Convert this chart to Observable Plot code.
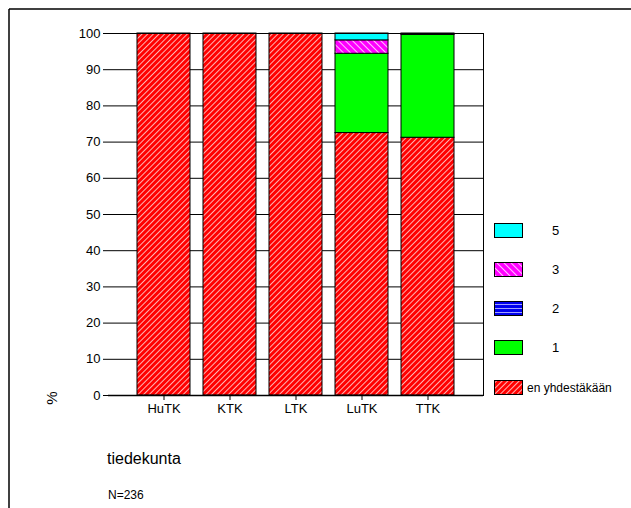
<!DOCTYPE html>
<html>
<head>
<meta charset="utf-8">
<script src="https://cdn.jsdelivr.net/npm/d3@7"></script>
<script src="https://cdn.jsdelivr.net/npm/@observablehq/plot@0.6"></script>
<style>
  html, body { margin: 0; padding: 0; background: #fff; }
  #chart { width: 631px; height: 508px; position: relative; }
  svg { font-family: "Liberation Sans", Arial, sans-serif; }
</style>
</head>
<body>
<div id="chart"></div>
<script>
// ---- data ----
const categories = ["HuTK", "KTK", "LTK", "LuTK", "TTK"];
const series = ["en yhdestäkään", "1", "2", "3", "5"];
const valuesEn = [100, 100, 100, 72.5, 71.2];
const values1  = [0, 0, 0, 21.9, 28.4];
const values2  = [0, 0, 0, 0, 0.4];
const values3  = [0, 0, 0, 3.7, 0];
const values5  = [0, 0, 0, 1.9, 0];
const yTicks = [0, 10, 20, 30, 40, 50, 60, 70, 80, 90, 100];
const xTitle = "tiedekunta";
const yTitle = "%";
const note = "N=236";
const legendOrder = ["5", "3", "2", "1", "en yhdestäkään"];

const seriesValues = [valuesEn, values1, values2, values3, values5];
const patternIds = ["pRed", "pGreen", "pBlue", "pMagenta", "pCyan"];

const rows = [];
series.forEach((s, si) => {
  categories.forEach((c, ci) => {
    rows.push({ cat: c, series: s, value: seriesValues[si][ci] });
  });
});

const W = 631, H = 508;
const mL = 108, mR = 148, mT = 33, mB = 113;

const chart = Plot.plot({
  width: W,
  height: H,
  marginLeft: mL,
  marginRight: mR,
  marginTop: mT,
  marginBottom: mB,
  style: { fontFamily: "'Liberation Sans', Arial, sans-serif", fontSize: "13px", background: "white", overflow: "visible" },
  x: { domain: categories, paddingInner: 0.19, paddingOuter: 0.42, label: null },
  y: { domain: [0, 100], label: null },
  color: { domain: series, range: patternIds.map(id => `url(#${id})`) },
  marks: [
    Plot.gridY(yTicks, { stroke: "#000", strokeOpacity: 1, strokeWidth: 1 }),
    Plot.barY(rows, Plot.stackY({ order: series }, {
      x: "cat", y: "value", fill: "series", z: "series",
      stroke: "#000", strokeWidth: 1
    })),
    Plot.axisY({ ticks: yTicks, tickSize: 5, tickPadding: 3, fontSize: 13, label: null }),
    Plot.axisX({ tickSize: 5, tickPadding: 3, fontSize: 13, label: null }),
    Plot.ruleX([0], { frameAnchor: "left", y1: 0, y2: 100, stroke: "#000", strokeWidth: 1.5 }),
    Plot.ruleY([0], { stroke: "#000", strokeWidth: 1.5 }),
    Plot.frame({ stroke: "#000", strokeWidth: 1, anchor: "right" }),
    Plot.frame({ stroke: "#000", strokeWidth: 1, anchor: "top" })
  ]
});

const svg = d3.select(chart);
// patterns
const defs = svg.insert("defs", ":first-child");
function hatch(id, bg, lineColor, angle, spacing, lw, opacity) {
  const p = defs.append("pattern").attr("id", id).attr("patternUnits", "userSpaceOnUse")
    .attr("width", spacing).attr("height", spacing)
    .attr("patternTransform", `rotate(${angle})`);
  p.append("rect").attr("width", spacing).attr("height", spacing).attr("fill", bg);
  if (lineColor) p.append("line").attr("x1", 0.5).attr("y1", 0).attr("x2", 0.5).attr("y2", spacing)
    .attr("stroke", lineColor).attr("stroke-width", lw).attr("stroke-opacity", opacity);
}
hatch("pRed", "#ff0000", "#ffffff", 45, 4, 1, 0.7);
hatch("pGreen", "#00ff00", null, 0, 4, 1, 1);
hatch("pBlue", "#0000ee", "#a0a0ff", 90, 4, 1, 1);
hatch("pMagenta", "#ff00ff", "#ffffff", -45, 5, 1, 0.75);
hatch("pCyan", "#00ffff", null, 0, 4, 1, 1);

// outer frame (top and left lines)
svg.append("line").attr("x1", 9).attr("y1", 9).attr("x2", W).attr("y2", 9)
  .attr("stroke", "#000").attr("stroke-width", 1.5);
svg.append("line").attr("x1", 9).attr("y1", 9).attr("x2", 9).attr("y2", H)
  .attr("stroke", "#000").attr("stroke-width", 1.5);

// titles
svg.append("text").attr("x", 57).attr("y", 398).attr("transform", "rotate(-90,57,398)")
  .attr("text-anchor", "middle").attr("font-size", 15).attr("fill", "#000").text(yTitle);
svg.append("text").attr("x", 107).attr("y", 464).attr("text-anchor", "start")
  .attr("font-size", 16).attr("fill", "#000").text(xTitle);
svg.append("text").attr("x", 108).attr("y", 499).attr("text-anchor", "start")
  .attr("font-size", 12).attr("fill", "#000").text(note);

// legend
const legTops = [223, 262, 301, 340, 380];
legendOrder.forEach((s, i) => {
  const idx = series.indexOf(s);
  svg.append("rect").attr("x", 494.5).attr("y", legTops[i] + 0.5).attr("width", 28).attr("height", 14)
    .attr("fill", `url(#${patternIds[idx]})`).attr("stroke", "#000").attr("stroke-width", 1);
  const long = s.length > 2;
  svg.append("text").attr("x", long ? 527 : 552).attr("y", legTops[i] + 7.5).attr("dy", "0.35em")
    .attr("text-anchor", "start")
    .attr("font-size", long ? 12 : 13).attr("fill", "#000").text(s);
});

document.getElementById("chart").appendChild(chart);
</script>
</body>
</html>
